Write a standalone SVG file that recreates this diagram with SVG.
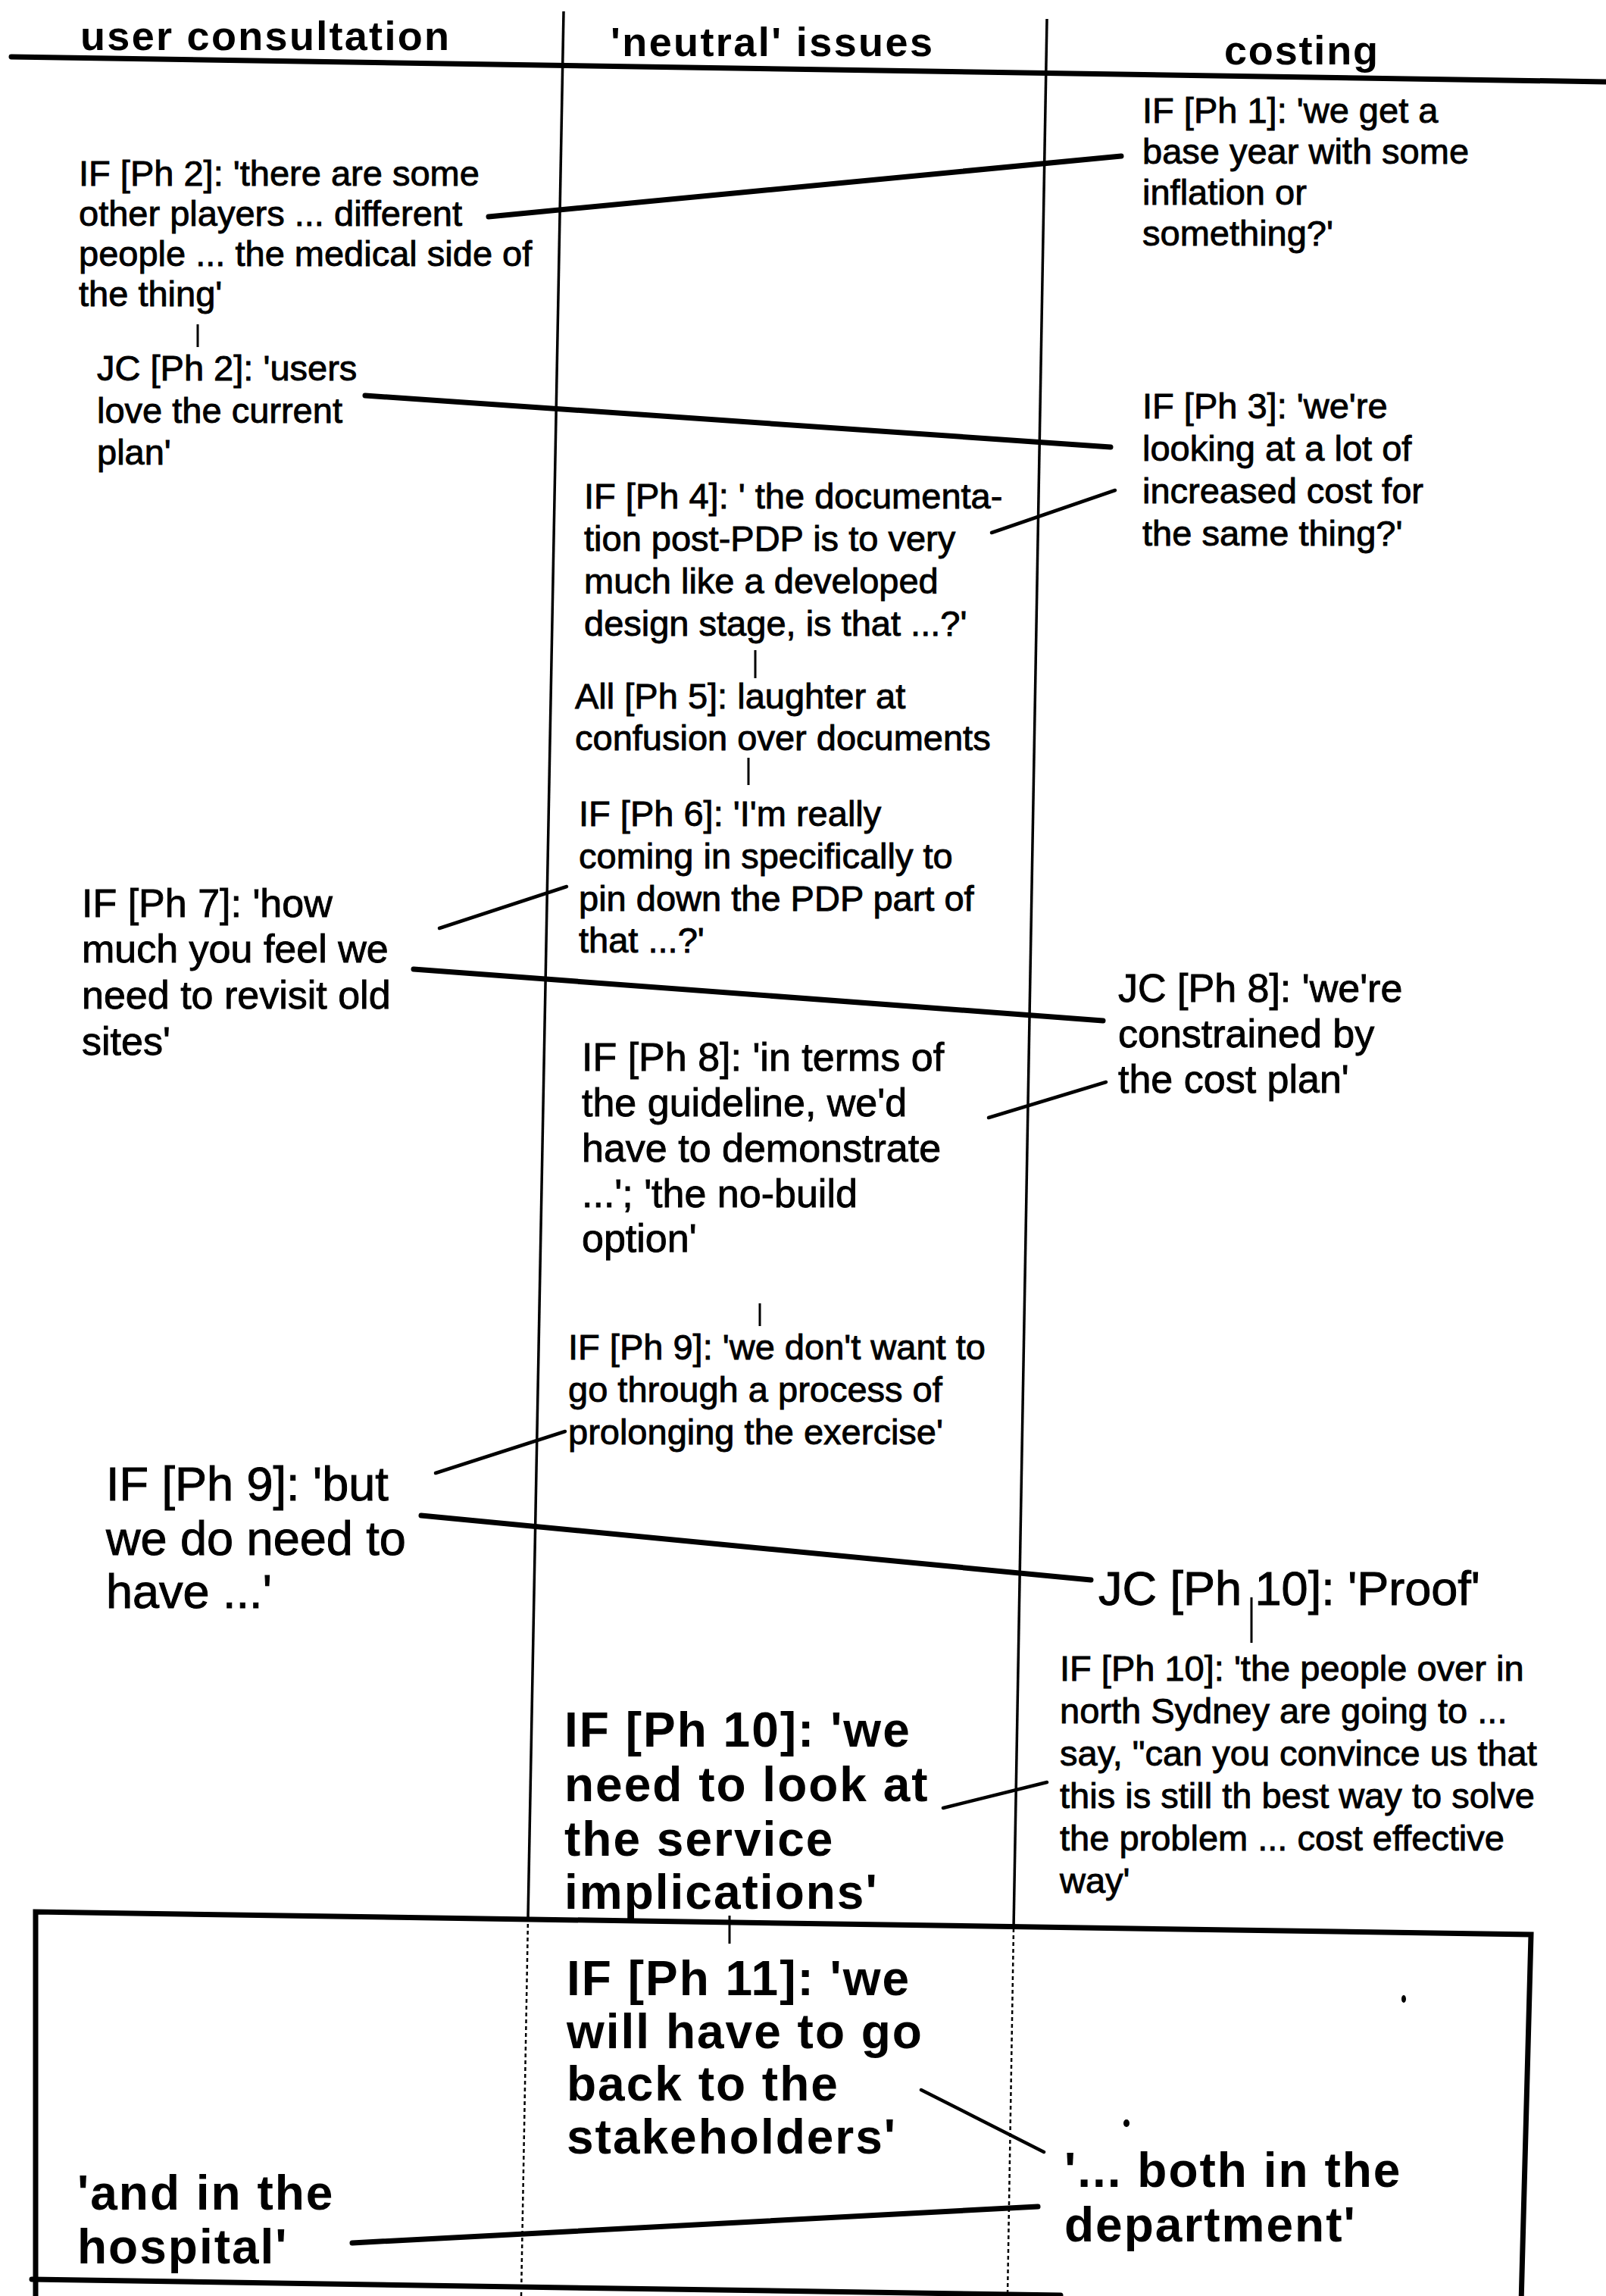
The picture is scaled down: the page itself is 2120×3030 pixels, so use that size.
<svg xmlns="http://www.w3.org/2000/svg" width="2120" height="3030" viewBox="0 0 2120 3030">
  <style>
    .s  { font-family: "Liberation Sans", Arial, sans-serif; font-size: 47px; fill: #000; stroke: #000; stroke-width: 0.9; }
    .m  { font-family: "Liberation Sans", Arial, sans-serif; font-size: 52px; fill: #000; stroke: #000; stroke-width: 0.9; }
    .l  { font-family: "Liberation Sans", Arial, sans-serif; font-size: 63px; fill: #000; stroke: #000; stroke-width: 1; }
    .b  { font-family: "Liberation Sans", Arial, sans-serif; font-size: 64px; font-weight: bold; letter-spacing: 2px; fill: #000; }
    .h  { font-family: "Liberation Sans", Arial, sans-serif; font-size: 54px; font-weight: bold; fill: #000; }
    .rule { stroke: #000; fill: none; stroke-linecap: round; }
    .col  { stroke: #000; stroke-width: 3.5; fill: none; }
    .dot  { stroke: #000; stroke-width: 2.5; fill: none; stroke-dasharray: 5 4; }
    .link { stroke: #000; stroke-width: 7; fill: none; stroke-linecap: round; }
    .thin { stroke: #000; stroke-width: 4.5; fill: none; stroke-linecap: round; }
    .tick { stroke: #000; stroke-width: 3; fill: none; }
  </style>

  <rect x="0" y="0" width="2120" height="3030" fill="#fff"/>

  <!-- column frame: header rule and the two column dividers -->
  <g id="frame">
    <line class="rule" x1="15" y1="75" x2="2120" y2="108" stroke-width="7"/>
    <line class="col" x1="744" y1="15" x2="697" y2="2530"/>
    <line class="dot" x1="697" y1="2530" x2="688" y2="3030"/>
    <line class="col" x1="1382" y1="25" x2="1338" y2="2545"/>
    <line class="dot" x1="1338" y1="2545" x2="1330" y2="3030"/>
  </g>

  <!-- column headings -->
  <g id="headings">
    <text class="h" x="106" y="66" textLength="487" lengthAdjust="spacing">user  consultation</text>
    <text class="h" x="806" y="74" textLength="425" lengthAdjust="spacing">'neutral'  issues</text>
    <text class="h" x="1616" y="85" textLength="203" lengthAdjust="spacing">costing</text>
  </g>

  <!-- closing box around the final phase -->
  <g id="final-box">
    <path class="rule" stroke-width="7" d="M47,3040 L47,2523 L2021,2553 L2008,3040"/>
    <line class="rule" stroke-width="7" x1="42" y1="3008" x2="1400" y2="3029"/>
  </g>

  <!-- connectors -->
  <g id="connectors">
    <line class="link" x1="645" y1="286" x2="1480" y2="206"/>
    <line class="link" x1="482" y1="522" x2="1466" y2="590"/>
    <line class="thin" x1="1309" y1="703" x2="1472" y2="647"/>
    <line class="thin" x1="580" y1="1225" x2="748" y2="1170"/>
    <line class="link" x1="546" y1="1279" x2="1456" y2="1347"/>
    <line class="thin" x1="1305" y1="1475" x2="1460" y2="1428"/>
    <line class="thin" x1="575" y1="1944" x2="746" y2="1889"/>
    <line class="link" x1="556" y1="2000" x2="1440" y2="2085"/>
    <line class="thin" x1="1245" y1="2386" x2="1382" y2="2352"/>
    <line class="thin" x1="1216" y1="2758" x2="1378" y2="2840"/>
    <line class="link" x1="465" y1="2960" x2="1370" y2="2912"/>
    <line class="tick" x1="261" y1="428" x2="261" y2="458"/>
    <line class="tick" x1="997" y1="858" x2="997" y2="895"/>
    <line class="tick" x1="988" y1="1000" x2="988" y2="1036"/>
    <line class="tick" x1="1003" y1="1720" x2="1003" y2="1750"/>
    <line class="tick" x1="1652" y1="2108" x2="1652" y2="2168"/>
    <line class="tick" x1="963" y1="2528" x2="963" y2="2565"/>
  </g>

  <!-- statements, one group per node -->
  <g id="n-if-ph1">
    <text class="s"><tspan x="1508" y="162">IF [Ph 1]: 'we get a</tspan><tspan x="1508" y="216">base year with some</tspan><tspan x="1508" y="270">inflation or</tspan><tspan x="1508" y="324">something?'</tspan></text>
  </g>
  <g id="n-if-ph2">
    <text class="s"><tspan x="104" y="245">IF [Ph 2]: 'there are some</tspan><tspan x="104" y="298">other players ... different</tspan><tspan x="104" y="351">people ... the medical side of</tspan><tspan x="104" y="404">the thing'</tspan></text>
  </g>
  <g id="n-jc-ph2">
    <text class="s"><tspan x="128" y="502">JC [Ph 2]: 'users</tspan><tspan x="128" y="558">love the current</tspan><tspan x="128" y="613">plan'</tspan></text>
  </g>
  <g id="n-if-ph3">
    <text class="s"><tspan x="1508" y="552">IF [Ph 3]: 'we're</tspan><tspan x="1508" y="608">looking at a lot of</tspan><tspan x="1508" y="664">increased cost for</tspan><tspan x="1508" y="720">the same thing?'</tspan></text>
  </g>
  <g id="n-if-ph4">
    <text class="s"><tspan x="771" y="671">IF [Ph 4]: ' the documenta-</tspan><tspan x="771" y="727">tion post-PDP is to very</tspan><tspan x="771" y="783">much like a developed</tspan><tspan x="771" y="839">design stage, is that ...?'</tspan></text>
  </g>
  <g id="n-all-ph5">
    <text class="s"><tspan x="759" y="935">All [Ph 5]: laughter at</tspan><tspan x="759" y="990">confusion over documents</tspan></text>
  </g>
  <g id="n-if-ph6">
    <text class="s"><tspan x="764" y="1090">IF [Ph 6]: 'I'm really</tspan><tspan x="764" y="1146">coming in specifically to</tspan><tspan x="764" y="1202">pin down the PDP part of</tspan><tspan x="764" y="1257">that ...?'</tspan></text>
  </g>
  <g id="n-if-ph7">
    <text class="m"><tspan x="108" y="1210">IF [Ph 7]: 'how</tspan><tspan x="108" y="1270">much you feel we</tspan><tspan x="108" y="1331">need to revisit old</tspan><tspan x="108" y="1392">sites'</tspan></text>
  </g>
  <g id="n-jc-ph8">
    <text class="m"><tspan x="1476" y="1322">JC [Ph 8]: 'we're</tspan><tspan x="1476" y="1382">constrained by</tspan><tspan x="1476" y="1442">the cost plan'</tspan></text>
  </g>
  <g id="n-if-ph8">
    <text class="m"><tspan x="768" y="1413">IF [Ph 8]: 'in terms of</tspan><tspan x="768" y="1473">the guideline, we'd</tspan><tspan x="768" y="1533">have to demonstrate</tspan><tspan x="768" y="1593">...'; 'the no-build</tspan><tspan x="768" y="1652">option'</tspan></text>
  </g>
  <g id="n-if-ph9-neutral">
    <text class="s"><tspan x="750" y="1794">IF [Ph 9]: 'we don't want to</tspan><tspan x="750" y="1850">go through a process of</tspan><tspan x="750" y="1906">prolonging the exercise'</tspan></text>
  </g>
  <g id="n-if-ph9-user">
    <text class="l"><tspan x="140" y="1980">IF [Ph 9]: 'but</tspan><tspan x="140" y="2052">we do need to</tspan><tspan x="140" y="2122">have ...'</tspan></text>
  </g>
  <g id="n-jc-ph10">
    <text class="l" x="1450" y="2118">JC [Ph 10]: 'Proof'</text>
  </g>
  <g id="n-if-ph10-costing">
    <text class="s"><tspan x="1399" y="2218">IF [Ph 10]: 'the people over in</tspan><tspan x="1399" y="2274">north Sydney are going to ...</tspan><tspan x="1399" y="2330">say, "can you convince us that</tspan><tspan x="1399" y="2386">this is still th best way to solve</tspan><tspan x="1399" y="2442">the problem ... cost effective</tspan><tspan x="1399" y="2498">way'</tspan></text>
  </g>
  <g id="n-if-ph10-neutral">
    <text class="b"><tspan x="745" y="2305">IF [Ph 10]: 'we</tspan><tspan x="745" y="2377">need to look at</tspan><tspan x="745" y="2449">the service</tspan><tspan x="745" y="2519">implications'</tspan></text>
  </g>
  <g id="n-if-ph11">
    <text class="b"><tspan x="748" y="2633">IF [Ph 11]: 'we</tspan><tspan x="748" y="2703">will have to go</tspan><tspan x="748" y="2772">back to the</tspan><tspan x="748" y="2842">stakeholders'</tspan></text>
  </g>
  <g id="n-department">
    <text class="b"><tspan x="1405" y="2886">'... both in the</tspan><tspan x="1405" y="2958">department'</tspan></text>
  </g>
  <g id="n-hospital">
    <text class="b"><tspan x="102" y="2916">'and in the</tspan><tspan x="102" y="2987">hospital'</tspan></text>
  </g>

  <!-- small stray marks -->
  <g id="marks">
    <ellipse cx="1487" cy="2802" rx="4" ry="5" fill="#000"/>
    <ellipse cx="1853" cy="2638" rx="3" ry="5" fill="#000"/>
  </g>
</svg>
